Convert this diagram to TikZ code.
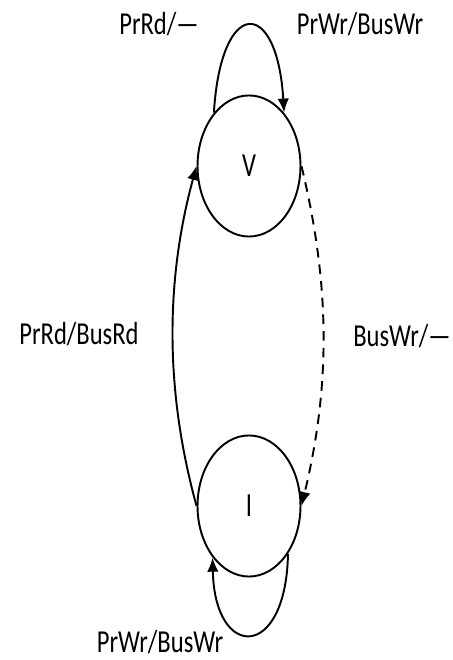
\documentclass[tikz,border=0pt]{standalone}
\usepackage{fontspec}
\setmainfont{Carlito}
\usepackage{tikz}
\usetikzlibrary{arrows.meta}

\begin{document}
\begin{tikzpicture}[x = 0.02cm, y = 0.02cm, line width = 1.1pt,
    state/.style = {draw, circle, minimum size = 2.06cm, inner sep = 0, yscale = 1.37, transform shape, font = \fontsize{14}{16}\selectfont},
    lbl/.style = {anchor = base, inner sep = 0, yscale = 1.3, transform shape, font = \fontsize{14}{16}\selectfont},
    arr/.style = {-{Latex[length = 2.8mm, width = 2.3mm]}}]
    \useasboundingbox (0, 0) rectangle (453, 660);

    \node [state] (V) at (249, 494) {V};
    \node [state] (I) at (249, 154) {I};

    \draw [arr] (V.132) .. controls +(7, 116) and +(-7, 116) .. (V.48);
    \draw [arr] (I.-42) .. controls +(-2, -107) and +(2, -103) .. (I.-134);
    \draw [arr] (I.west) .. controls +(-33, 120) and +(-30, -110) .. (V.west);
    \draw [arr, dash pattern = on 5.5pt off 4pt] (V.east) .. controls +(29, -120) and +(29, 120) .. (I.east);

    \node [lbl] (rdv) at (159, 625) {PrRd/—};
    \node [lbl] (wrv) at (360, 625) {PrWr/BusWr};
    \node [lbl] (rdi) at (79, 315) {PrRd/BusRd};
    \node [lbl] (bwv) at (402, 313) {BusWr/—};
    \node [lbl] (wri) at (160, 7) {PrWr/BusWr};
  \end{tikzpicture}
\end{document}
